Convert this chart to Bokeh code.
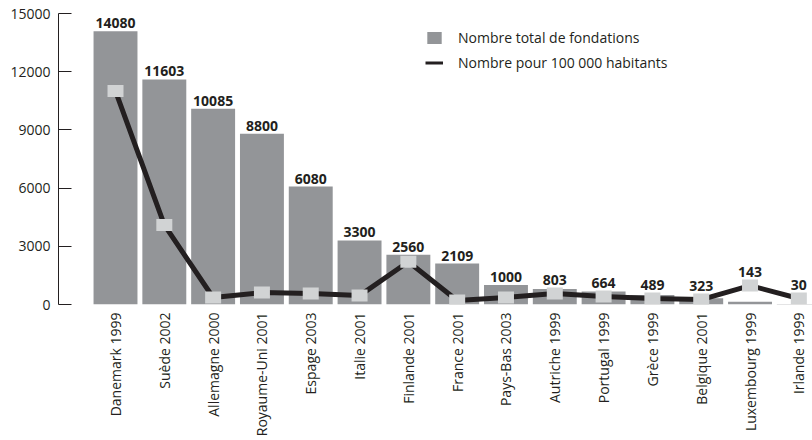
import numpy as np
from bokeh.plotting import figure
from bokeh.models import ColumnDataSource, FixedTicker, Range1d, Legend, LegendItem
from bokeh.core.properties import value
from bokeh.embed import file_html
from bokeh.resources import INLINE

# ---- data ----
countries = ["Danemark 1999", "Suède 2002", "Allemagne 2000", "Royaume-Uni 2001",
             "Espage 2003", "Italie 2001", "Finlande 2001", "France 2001",
             "Pays-Bas 2003", "Autriche 1999", "Portugal 1999", "Grèce 1999",
             "Belgique 2001", "Luxembourg 1999", "Irlande 1999"]
totals = [14080, 11603, 10085, 8800, 6080, 3300, 2560, 2109, 1000, 803, 664, 489, 323, 143, 30]
per_100k = [11000, 4100, 360, 615, 565, 460, 2205, 205, 360, 565, 410, 310, 255, 975, 310]
y_ticks = [0, 3000, 6000, 9000, 12000, 15000]

BAR = "#939598"
MARK = "#d1d3d4"
INK = "#231f20"
FONT = "Open Sans"

xs = list(range(len(countries)))
label_y = [max(t, v + 300) for t, v in zip(totals, per_100k)]
src = ColumnDataSource(dict(x=xs, total=totals, line=per_100k,
                            label=[str(t) for t in totals], ly=label_y))

p = figure(width=812, height=440, output_backend="svg", toolbar_location=None,
           x_range=Range1d(-1.168, 14.28), y_range=Range1d(0, 15000),
           min_border_left=58, min_border_top=13, min_border_right=0, min_border_bottom=136)
p.outline_line_color = None
p.xgrid.visible = False
p.ygrid.visible = False
p.background_fill_color = "white"
p.border_fill_color = "white"

bars = p.vbar(x="x", top="total", bottom=0, width=0.9, source=src,
              fill_color=BAR, line_color=None)
# thinner copy of the line (hidden under the main one) used as the legend swatch
ln_key = p.line(x="x", y="line", source=src, line_color=INK, line_width=3)
ln = p.line(x="x", y="line", source=src, line_color=INK, line_width=5)
p.rect(x="x", y="line", width=16, height=12, width_units="screen", height_units="screen",
       source=src, fill_color=MARK, line_color=None)

p.text(x="x", y="ly", text="label", source=src, text_align="center",
       text_baseline="bottom", y_offset=-3, text_font=value(FONT),
       text_font_style="bold", text_font_size="14px", text_color=INK)

# y axis
p.yaxis.ticker = FixedTicker(ticks=y_ticks)
p.yaxis.minor_tick_line_color = None
p.yaxis.major_tick_in = 13
p.yaxis.major_tick_out = 0
p.yaxis.axis_line_color = INK
p.yaxis.major_tick_line_color = INK
p.yaxis.major_label_text_font = FONT
p.yaxis.major_label_text_font_size = "14px"
p.yaxis.major_label_text_color = INK
p.yaxis.major_label_standoff = 8

# x axis
p.xaxis.ticker = FixedTicker(ticks=xs)
p.xaxis.major_label_overrides = {i: c for i, c in enumerate(countries)}
p.xaxis.major_label_orientation = np.pi / 2
p.xaxis.axis_line_color = None
p.xaxis.major_tick_line_color = None
p.xaxis.minor_tick_line_color = None
p.xaxis.major_tick_out = 0
p.xaxis.major_tick_in = 0
p.xaxis.major_label_standoff = 8
p.xaxis.major_label_text_font = FONT
p.xaxis.major_label_text_font_size = "14px"
p.xaxis.major_label_text_color = INK

legend = Legend(items=[LegendItem(label="Nombre total de fondations", renderers=[bars]),
                       LegendItem(label="Nombre pour 100 000 habitants", renderers=[ln_key])],
                location=(367, 232), orientation="vertical",
                glyph_width=18, glyph_height=15, spacing=6, padding=0, margin=0,
                label_standoff=15, label_text_font=FONT, label_text_font_size="14px",
                label_text_color=INK, border_line_color=None, background_fill_alpha=0)
p.add_layout(legend)

open("out.html", "w").write(file_html(p, INLINE))
